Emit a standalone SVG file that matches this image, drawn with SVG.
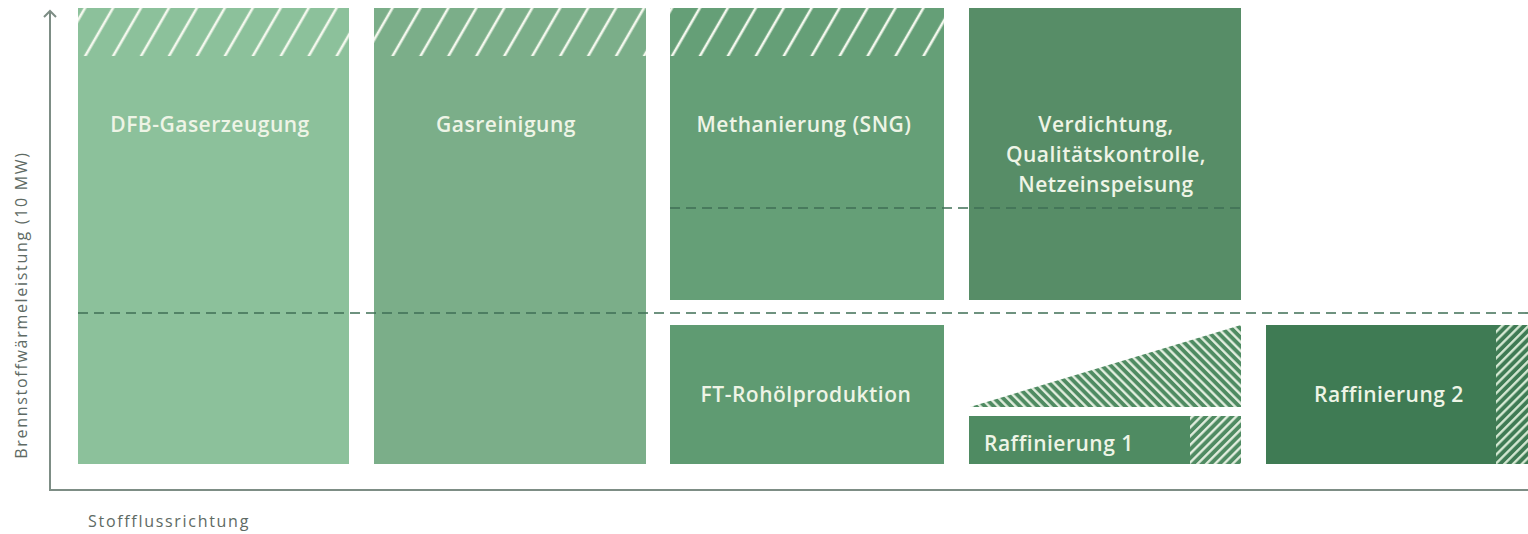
<svg xmlns="http://www.w3.org/2000/svg" width="1528" height="534" viewBox="0 0 1528 534">
  <defs>
    <pattern id="hTop" patternUnits="userSpaceOnUse" width="24.2" height="40" patternTransform="rotate(30)">
      <line x1="5" y1="-5" x2="5" y2="45" stroke="#f4f8ee" stroke-width="2.6"/>
    </pattern>
    <pattern id="hBack" patternUnits="userSpaceOnUse" width="6.2" height="20" patternTransform="rotate(-45)">
      <rect x="0" y="0" width="6.2" height="20" fill="#4f8b62"/>
      <line x1="3" y1="-2" x2="3" y2="22" stroke="#e6f1e2" stroke-width="2.3"/>
    </pattern>
    <pattern id="hFwd1" patternUnits="userSpaceOnUse" width="6.2" height="20" patternTransform="rotate(45)">
      <rect x="0" y="0" width="6.2" height="20" fill="#4f8b62"/>
      <line x1="3" y1="-2" x2="3" y2="22" stroke="#e6f1e2" stroke-width="2.3"/>
    </pattern>
    <pattern id="hFwd2" patternUnits="userSpaceOnUse" width="6.2" height="20" patternTransform="rotate(45)">
      <rect x="0" y="0" width="6.2" height="20" fill="#3f7b54"/>
      <line x1="3" y1="-2" x2="3" y2="22" stroke="#d9ecd6" stroke-width="2.3"/>
    </pattern>
  </defs>
  <style>
    .lbl { font-family: "Open Sans", "Noto Sans", sans-serif; font-weight: 600; font-size: 21px; letter-spacing: 0.5px; fill: #eef4e6; text-anchor: middle; }
    .ax { font-family: "Open Sans", "Noto Sans", sans-serif; font-size: 16px; fill: #5e6a64; letter-spacing: 1.7px; }
    .dash { stroke: #3f6f55; stroke-width: 1.6; stroke-dasharray: 10 6; fill: none; }
    .axis { stroke: #7d8d85; stroke-width: 2; fill: none; }
  </style>
  <rect width="1528" height="534" fill="#ffffff"/>

  <g id="axes">
    <line class="axis" x1="50" y1="490" x2="50" y2="11"/>
    <path class="axis" d="M44,17 L50,11 L56,17"/>
    <line class="axis" x1="49" y1="490" x2="1528" y2="490"/>
    <text class="ax" transform="translate(27,305) rotate(-90)" text-anchor="middle">Brennstoffwärmeleistung (10 MW)</text>
    <text class="ax" x="88" y="527">Stoffflussrichtung</text>
  </g>

  <g id="n-dfb">
    <rect x="78" y="8" width="271" height="456" fill="#8cc19b"/>
    <rect x="78" y="8" width="271" height="48" fill="url(#hTop)"/>
    <text class="lbl" x="210" y="132">DFB-Gaserzeugung</text>
  </g>
  <g id="n-gasreinigung">
    <rect x="374" y="8" width="272" height="456" fill="#7bae89"/>
    <rect x="374" y="8" width="272" height="48" fill="url(#hTop)"/>
    <text class="lbl" x="506" y="132">Gasreinigung</text>
  </g>
  <g id="n-methanierung">
    <rect x="670" y="8" width="274" height="292" fill="#659f77"/>
    <rect x="670" y="8" width="274" height="48" fill="url(#hTop)"/>
    <text class="lbl" x="804" y="132">Methanierung (SNG)</text>
  </g>
  <g id="n-verdichtung">
    <rect x="969" y="8" width="272" height="292" fill="#578d67"/>
    <text class="lbl" x="1106" y="132">Verdichtung,</text>
    <text class="lbl" x="1106" y="162">Qualitätskontrolle,</text>
    <text class="lbl" x="1106" y="192">Netzeinspeisung</text>
  </g>
  <g id="n-ft">
    <rect x="670" y="325" width="274" height="139" fill="#5f9b72"/>
    <text class="lbl" x="806" y="402">FT-Rohölproduktion</text>
  </g>
  <g id="n-triangle">
    <polygon points="970,407 1241,325 1241,407" fill="url(#hBack)"/>
  </g>
  <g id="n-raff1">
    <rect x="969" y="416" width="272" height="48" fill="#4f8b62"/>
    <rect x="1190" y="416" width="51" height="48" fill="url(#hFwd1)"/>
    <text class="lbl" x="984" y="451" style="text-anchor:start">Raffinierung 1</text>
  </g>
  <g id="n-raff2">
    <rect x="1266" y="325" width="262" height="139" fill="#3f7b54"/>
    <rect x="1496" y="325" width="32" height="139" fill="url(#hFwd2)"/>
    <text class="lbl" x="1389" y="402">Raffinierung 2</text>
  </g>

  <g id="connectors">
    <line class="dash" x1="78" y1="313" x2="1528" y2="313"/>
    <line class="dash" x1="670" y1="208" x2="1241" y2="208"/>
  </g>
</svg>
